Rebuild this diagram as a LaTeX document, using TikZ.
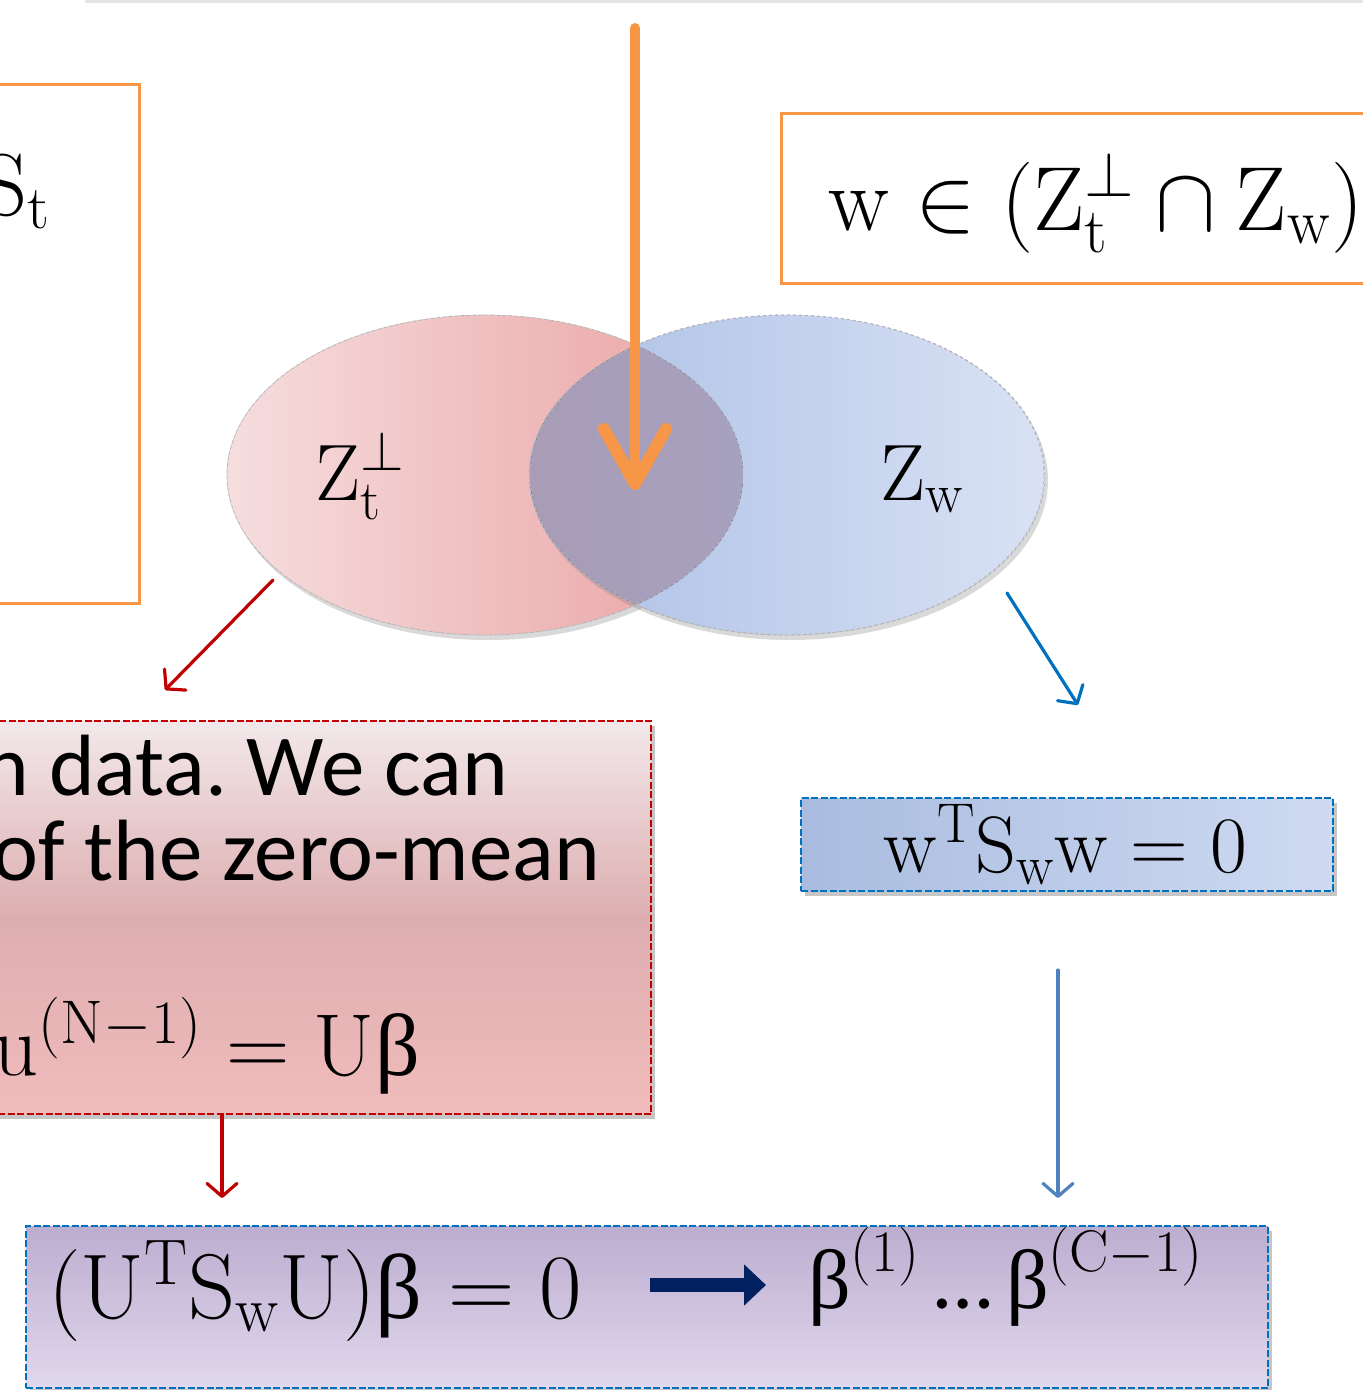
\RequirePackage{fix-cm}
\documentclass[tikz,border=0pt]{standalone}
\usepackage[no-math]{fontspec}
\setmainfont{Carlito}
\newfontfamily\greekup{Liberation Serif}
\usepackage{amsmath,amssymb}
\usetikzlibrary{
  arrows.meta,
  positioning,
  shapes.geometric,
  shadows,
  calc
}
\definecolor{slideorange}{HTML}{F79646}
\definecolor{darkred}{HTML}{C00000}
\definecolor{deepblue}{HTML}{0070C0}
\definecolor{steelblue}{HTML}{4F81BD}
\definecolor{navyblue}{HTML}{002060}
\definecolor{pinkpale}{HTML}{F6DDDE}
\definecolor{pinkdeep}{HTML}{EAA1A2}
\definecolor{bluedeep}{HTML}{ACBFE6}
\definecolor{bluepale}{HTML}{D9E2F4}
\definecolor{mixleft}{HTML}{A89CB6}
\definecolor{mixright}{HTML}{A3A8CB}
\definecolor{redtop}{HTML}{F2E8EA}
\definecolor{redmid}{HTML}{DDAEB0}
\definecolor{redbot}{HTML}{F1BBBB}
\definecolor{boxblueleft}{HTML}{A9BCE0}
\definecolor{boxblueright}{HTML}{CFDAF1}
\definecolor{lilactop}{HTML}{BCADD0}
\definecolor{lilacbot}{HTML}{E0D8EC}

\newcommand{\ubeta}{\text{\greekup β}}
\frenchspacing

\begin{document}
\begin{tikzpicture}[
  x=1pt, y=-1pt,
  % Node styles
  framebox/.style={
    rectangle,
    draw=slideorange,
    line width=3pt,
    fill=white,
    inner sep=0pt,
    anchor=north west,
  },
  setshape/.style={
    ellipse,
    draw=black!30,
    dashed,
    line width=0.8pt,
    inner sep=0pt,
    minimum width=516pt,
    minimum height=320pt,
    drop shadow={shadow xshift=3pt, shadow yshift=-5pt, opacity=0.3},
  },
  resultbox/.style={
    rectangle,
    line width=2pt,
    dash pattern=on 7pt off 2.5pt,
    inner sep=0pt,
    anchor=north west,
    drop shadow={shadow xshift=4pt, shadow yshift=-5pt, opacity=0.45},
  },
  bigmath/.style={
    font=\fontsize{88}{100}\selectfont,
    inner sep=0pt,
  },
  bigtext/.style={
    font=\fontsize{87}{100}\selectfont,
    inner sep=0pt,
    anchor=base east,
  },
  redarrow/.style={
    draw=darkred,
    line width=3.2pt,
    line cap=round,
    -{Straight Barb[length=13pt,width=30pt,round]},
  },
  bluearrow/.style={
    draw=deepblue,
    line width=3.2pt,
    line cap=round,
    -{Straight Barb[length=13pt,width=30pt,round]},
  },
]

\useasboundingbox (0,0) rectangle (1363,1390);
\clip (0,0) rectangle (1363,1390);

% ── Edge of the shape above ──
\draw[black!10, line width=3pt] (85,1) -- (1363,1);

% ── Orange frames ──
\node[framebox, minimum width=198pt, minimum height=519pt] (leftframe) at (-60,83) {};
\node[bigmath, anchor=base east] (stlabel) at (50,215) {$\mathrm{S_t}$};

\node[framebox, minimum width=700pt, minimum height=170pt] (rightframe) at (780,112) {};
\node[bigmath, anchor=base west, font=\fontsize{91}{100}\selectfont] (member) at (828,230)
  {$\mathrm{w}\in(\mathrm{Z}_\mathrm{t}^{\perp}\cap \mathrm{Z}_\mathrm{w})$};

% ── The two subspaces ──
\node[setshape, left color=pinkpale, right color=pinkdeep] (ztperp) at (485,475) {};
\node[setshape, left color=bluedeep, right color=bluepale] (zw) at (787,475) {};
\begin{scope}
  \clip (485,475) ellipse [x radius=258, y radius=160];
  \fill[left color=mixleft, right color=mixright] (787,475) ellipse [x radius=257, y radius=160];
\end{scope}
\draw[black!25, dashed, line width=0.6pt] (485,475) ellipse [x radius=258, y radius=160];
\draw[black!30, dashed, line width=0.8pt] (787,475) ellipse [x radius=257, y radius=160];

\node[bigmath, anchor=base, font=\fontsize{80}{90}\selectfont] (ztlabel) at (360,500)
  {$\mathrm{Z}_\mathrm{t}^{\perp}$};
\node[bigmath, anchor=base, font=\fontsize{80}{90}\selectfont] (zwlabel) at (922,500)
  {$\mathrm{Z}_\mathrm{w}$};

% ── Red result box ──
\node[resultbox, draw=darkred, top color=redtop, bottom color=redbot, middle color=redmid,
      minimum width=710pt, minimum height=393pt] (redbox) at (-60,720) {};
\node[bigtext] (lineone) at (508,795) {in data. We can};
\node[bigtext] (linetwo) at (600,880) {of the zero-mean};
\node[bigmath, anchor=base east] (expand) at (420,1075)
  {$\mathrm{u}^{(\mathrm{N}-1)} = \mathrm{U}\ubeta$};

% ── Blue result box ──
\node[resultbox, draw=deepblue, left color=boxblueleft, right color=boxblueright,
      minimum width=532pt, minimum height=93pt] (bluebox) at (800,797) {};
\node[bigmath, anchor=base, font=\fontsize{80}{90}\selectfont] (scatter) at (1065,872)
  {$\mathrm{w}^{\mathrm{T}}\mathrm{S}_\mathrm{w}\mathrm{w} = 0$};

% ── Purple result box ──
\node[resultbox, draw=deepblue, top color=lilactop, bottom color=lilacbot,
      minimum width=1242pt, minimum height=162pt] (purplebox) at (25,1225) {};
\node[bigmath, anchor=base west, font=\fontsize{92}{100}\selectfont] (reduced) at (48,1318)
  {$(\mathrm{U}^{\mathrm{T}}\mathrm{S}_\mathrm{w}\mathrm{U})\ubeta = 0$};
\node[bigmath, anchor=base west, font=\fontsize{84}{100}\selectfont] (solutions) at (808,1308)
  {$\ubeta^{(1)}\,\text{…}\,\ubeta^{(\mathrm{C}-1)}$};

% ── Arrows ──
\coordinate (dropstart) at (635,28);
\coordinate (droptip) at (635,490);
\draw[slideorange, line width=10pt, line cap=round,
      -{Straight Barb[length=55pt,width=62pt,line width=12pt,round]}] (dropstart) -- (droptip);

% Z_t^perp -> red box
\coordinate (redstart) at (273,580);
\coordinate (redend) at (165,690);
\draw[redarrow] (redstart) -- (redend);

% Z_w -> blue box
\coordinate (bluestart) at (1007,593);
\coordinate (blueend) at (1078,705);
\draw[bluearrow] (bluestart) -- (blueend);

% red box -> purple box
\coordinate (redfoot) at (222,1198);
\draw[redarrow] (redbox.south west -| redfoot) -- (redfoot);

% blue box -> purple box
\coordinate (bluetop) at (1058,970);
\coordinate (bluefoot) at (1058,1198);
\draw[bluearrow, draw=steelblue] (bluetop) -- (bluefoot);

% equation -> solutions
\coordinate (implyfrom) at (650,1285);
\coordinate (implyto) at (766,1285);
\draw[navyblue, line width=14pt, -{Triangle[length=22pt,width=40pt]}] (implyfrom) -- (implyto);

\end{tikzpicture}
\end{document}
